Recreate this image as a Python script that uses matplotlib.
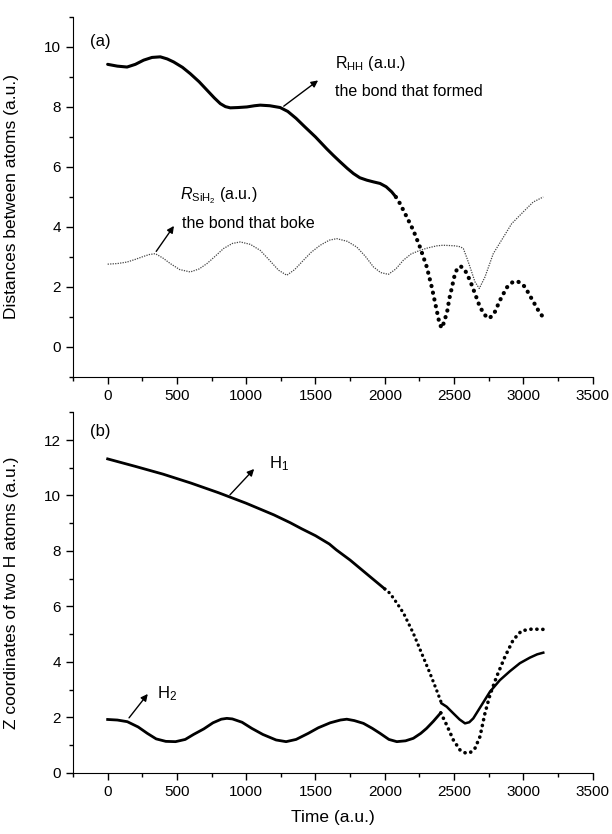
import numpy as np
import matplotlib.pyplot as plt
from matplotlib.ticker import MultipleLocator

plt.rcParams['font.family'] = ['Liberation Sans', 'DejaVu Sans']
plt.rcParams['mathtext.fontset'] = 'custom'
plt.rcParams['mathtext.rm'] = 'Liberation Sans'
plt.rcParams['mathtext.it'] = 'Liberation Sans:italic'

# ---- panel (a): distances between atoms ----
# R_HH, slow part (drawn solid)
t_hh_solid = [0, 70, 140, 200, 260, 320, 380, 430, 476, 540, 596, 660, 717, 770, 813, 850,
              885, 940, 1005, 1060, 1101, 1170, 1245, 1300, 1360, 1420, 1500, 1582, 1630,
              1678, 1730, 1774, 1820, 1870, 1920, 1966, 2010, 2050, 2080]
r_hh_solid = [9.42, 9.36, 9.33, 9.42, 9.56, 9.65, 9.67, 9.6, 9.5, 9.32, 9.11, 8.84, 8.56, 8.3,
              8.11, 8.01, 7.97, 7.98, 8.0, 8.04, 8.06, 8.04, 7.98, 7.85, 7.62, 7.35, 7.0, 6.6,
              6.38, 6.17, 5.95, 5.78, 5.64, 5.56, 5.5, 5.45, 5.34, 5.17, 5.0]
# R_HH, fast part (dots)
t_hh_dots = [2080, 2110, 2159, 2206, 2254, 2303, 2339, 2375, 2395, 2411, 2430, 2452, 2466,
             2483, 2507, 2525, 2548, 2579, 2615, 2651, 2687, 2723, 2754, 2790, 2831, 2880,
             2920, 2952, 2985, 3012, 3060, 3108, 3144]
r_hh_dots = [5.0, 4.78, 4.33, 3.89, 3.33, 2.67, 2.0, 1.22, 0.78, 0.63, 0.85, 1.22, 1.61,
             1.95, 2.45, 2.62, 2.69, 2.56, 2.22, 1.78, 1.33, 1.06, 0.95, 1.12, 1.55, 1.98,
             2.15, 2.2, 2.12, 2.0, 1.61, 1.22, 0.98]
# R_SiH2
t_sih = [0, 70, 140, 200, 260, 300, 344, 400, 452, 520, 596, 660, 717, 780, 836, 900, 957,
         1030, 1101, 1170, 1233, 1293, 1350, 1413, 1470, 1534, 1600, 1654, 1730, 1798, 1860,
         1918, 1970, 2026, 2080, 2134, 2190, 2254, 2310, 2375, 2420, 2470, 2507, 2545, 2567,
         2590, 2615, 2651, 2682, 2723, 2783, 2843, 2916, 2999, 3071, 3144]
r_sih = [2.76, 2.78, 2.83, 2.92, 3.02, 3.08, 3.11, 2.96, 2.78, 2.58, 2.5, 2.6, 2.78, 3.04,
         3.28, 3.45, 3.5, 3.42, 3.22, 2.88, 2.56, 2.39, 2.58, 2.89, 3.16, 3.39, 3.56, 3.61,
         3.52, 3.33, 3.02, 2.67, 2.48, 2.42, 2.6, 2.89, 3.1, 3.22, 3.3, 3.37, 3.39, 3.38,
         3.37, 3.34, 3.28, 3.0, 2.67, 2.17, 1.95, 2.33, 3.11, 3.56, 4.11, 4.5, 4.83, 5.0]

# ---- panel (b): z coordinates of the two H atoms ----
t_h1_a = [0, 200, 400, 600, 800, 1000, 1200, 1317, 1400, 1500, 1600, 1650, 1750, 1894, 2000]
z_h1_a = [11.32, 11.05, 10.77, 10.45, 10.1, 9.72, 9.3, 9.02, 8.8, 8.55, 8.25, 8.04, 7.67,
          7.07, 6.63]
t_h1_b = [2000, 2038, 2090, 2136, 2170, 2206, 2266, 2326, 2374, 2410]
z_h1_b = [6.63, 6.47, 6.1, 5.75, 5.4, 5.03, 4.31, 3.59, 2.98, 2.5]
t_h1_c = [2410, 2447, 2495, 2540, 2579, 2610, 2639, 2699, 2759, 2831, 2903, 2975, 3047,
          3100, 3144]
z_h1_c = [2.5, 2.38, 2.14, 1.92, 1.78, 1.82, 1.96, 2.44, 2.92, 3.34, 3.66, 3.95, 4.15,
          4.27, 4.33]

t_h2_a = [0, 70, 142, 220, 286, 350, 420, 490, 560, 620, 694, 760, 820, 860, 900, 970,
          1040, 1120, 1216, 1288, 1360, 1448, 1520, 1606, 1680, 1726, 1780, 1846, 1910,
          1966, 2030, 2087, 2150, 2206, 2260, 2302, 2350, 2404]
z_h2_a = [1.92, 1.9, 1.84, 1.65, 1.42, 1.22, 1.13, 1.12, 1.2, 1.38, 1.58, 1.8, 1.93, 1.96,
          1.94, 1.82, 1.6, 1.38, 1.18, 1.12, 1.2, 1.42, 1.62, 1.8, 1.9, 1.93, 1.88, 1.78,
          1.6, 1.42, 1.2, 1.12, 1.15, 1.24, 1.42, 1.6, 1.85, 2.16]
t_h2_b = [2404, 2447, 2495, 2543, 2567, 2591, 2620, 2651, 2687, 2723, 2759, 2807, 2867,
          2927, 2987, 3060, 3144]
z_h2_b = [2.16, 1.72, 1.18, 0.82, 0.74, 0.7, 0.74, 0.88, 1.3, 2.14, 2.8, 3.46, 4.18, 4.79,
          5.12, 5.18, 5.17]

dots = dict(linestyle=(0, (0.05, 1.6)), dash_capstyle='round', color='black')

fig = plt.figure(figsize=(6.12, 8.34), dpi=100)
ax1 = fig.add_axes([0.1193, 0.548, 0.849, 0.4317])
ax2 = fig.add_axes([0.1193, 0.0735, 0.849, 0.4321])

# panel (a)
ax1.plot(t_hh_solid, r_hh_solid, color='black', lw=2.2, solid_capstyle='round')
ax1.plot(t_hh_dots, r_hh_dots, lw=3.0, **dots)
ax1.plot(t_sih, r_sih, color='#444444', lw=0.9, linestyle=(0, (1, 1)))
ax1.set_xlim(-250, 3500)
ax1.set_ylim(-1, 11)
ax1.set_yticks([0, 2, 4, 6, 8, 10])
ax1.set_ylabel('Distances between atoms (a.u.)', fontsize=12.5)

ax1.text(-125, 10.17, '(a)', fontsize=12, va='center')
ax1.annotate('', xy=(1535, 8.94), xytext=(1255, 7.97),
             arrowprops=dict(arrowstyle='-|>', color='black', lw=1, mutation_scale=10))
ax1.text(1640, 9.45, r'$\mathregular{R_{HH}}$ (a.u.)', fontsize=11.5, va='center')
ax1.text(1640, 8.5, 'the bond that formed', fontsize=11.5, va='center')
ax1.annotate('', xy=(490, 4.11), xytext=(339, 3.11),
             arrowprops=dict(arrowstyle='-|>', color='black', lw=1, mutation_scale=10))
ax1.text(525, 5.05, r'$R_{\mathregular{SiH_2}}$ (a.u.)', fontsize=11.5, va='center')
ax1.text(536, 4.1, 'the bond that boke', fontsize=11.5, va='center')

# panel (b)
ax2.plot(t_h1_a, z_h1_a, color='black', lw=2.0)
ax2.plot(t_h1_b, z_h1_b, lw=2.4, **dots)
ax2.plot(t_h1_c, z_h1_c, color='black', lw=1.8)
ax2.plot(t_h2_a, z_h2_a, color='black', lw=2.0)
ax2.plot(t_h2_b, z_h2_b, lw=2.6, **dots)
ax2.set_xlim(-250, 3500)
ax2.set_ylim(0, 13)
ax2.set_yticks([0, 2, 4, 6, 8, 10, 12])
ax2.set_ylabel('Z coordinates of two H atoms (a.u.)', fontsize=12.5)
ax2.set_xlabel('Time (a.u.)', fontsize=12.5, labelpad=8)

ax2.text(-125, 12.3, '(b)', fontsize=12, va='center')
ax2.annotate('', xy=(1071, 11.03), xytext=(869, 9.95),
             arrowprops=dict(arrowstyle='-|>', color='black', lw=1, mutation_scale=10))
ax2.text(1165, 11.15, r'$\mathregular{H_1}$', fontsize=12, va='center')
ax2.annotate('', xy=(302, 2.92), xytext=(142, 1.9),
             arrowprops=dict(arrowstyle='-|>', color='black', lw=1, mutation_scale=10))
ax2.text(355, 2.85, r'$\mathregular{H_2}$', fontsize=12, va='center')

for ax in (ax1, ax2):
    ax.spines['top'].set_visible(False)
    ax.spines['right'].set_visible(False)
    ax.set_xticks([0, 500, 1000, 1500, 2000, 2500, 3000, 3500])
    ax.xaxis.set_minor_locator(MultipleLocator(250))
    ax.yaxis.set_minor_locator(MultipleLocator(1))
    ax.tick_params(which='major', direction='out', length=5, width=1, labelsize=11)
    ax.tick_params(which='minor', direction='out', length=3, width=1)
    ax.yaxis.set_label_coords(-0.103, 0.5)

fig.savefig('out.png', dpi=100)
